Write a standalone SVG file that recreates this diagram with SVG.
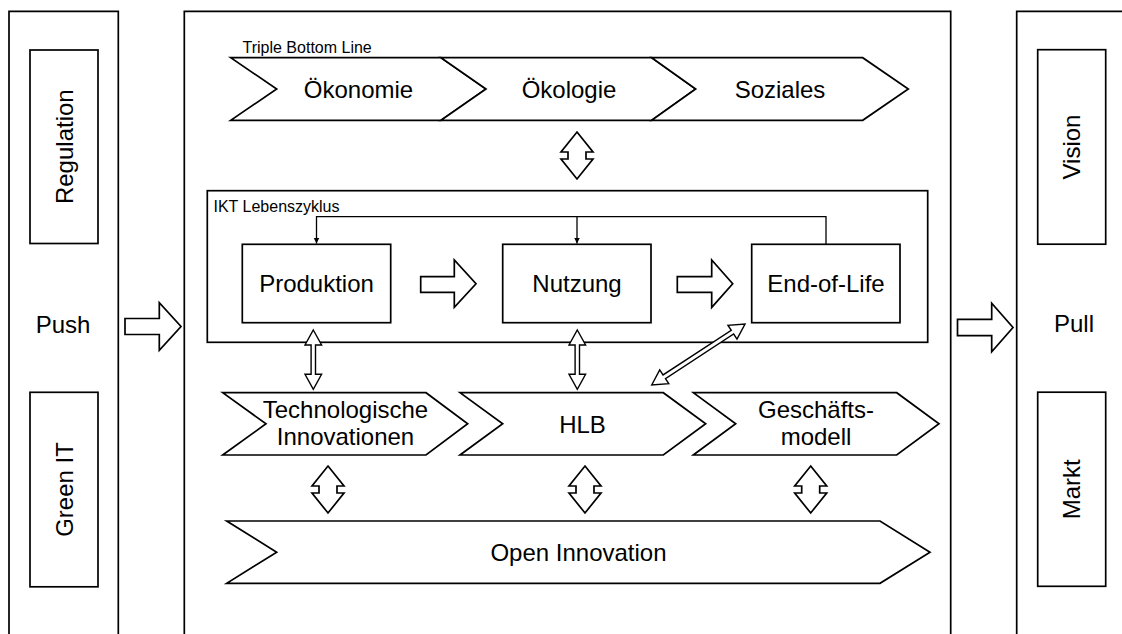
<svg xmlns="http://www.w3.org/2000/svg" width="1122" height="634" viewBox="0 0 1122 634">
  <style>
    .frame { fill: none; stroke: #000; stroke-width: 1.7; }
    .box { fill: #fff; stroke: #000; stroke-width: 1.7; }
    .shape { fill: #fff; stroke: #000; stroke-width: 1.7; stroke-linejoin: miter; }
    .link { fill: #fff; stroke: #000; stroke-width: 1.4; stroke-linejoin: miter; }
    .wire { fill: none; stroke: #000; stroke-width: 1.3; }
    .lbl { font-family: "Liberation Sans", Arial, sans-serif; font-size: 24px; fill: #000; text-anchor: middle; }
    .small { font-family: "Liberation Sans", Arial, sans-serif; font-size: 16px; fill: #000; }
  </style>
  <defs>
    <marker id="tip" viewBox="0 0 10 10" refX="10" refY="5" markerWidth="6" markerHeight="7" markerUnits="userSpaceOnUse" orient="auto">
      <path d="M0,0 L10,5 L0,10 Z" fill="#000"/>
    </marker>
    <!-- vertical double block arrow, 47 tall, origin at top tip -->
    <path id="dbl" d="M0,0 L16,20 L9,20 L9,27 L16,27 L0,47 L-16,27 L-9,27 L-9,20 L-16,20 Z"/>
  </defs>
  <rect width="1122" height="634" fill="#fff"/>

  <!-- Push column -->
  <g id="push-panel">
    <path class="frame" d="M9,640 V11.3 H118.3 V640"/>
    <text class="lbl" x="63" y="333">Push</text>
  </g>
  <g id="regulation">
    <rect class="box" x="30" y="50" width="68" height="193.5"/>
    <text class="lbl" transform="translate(64,146.7) rotate(-90)" y="8.5">Regulation</text>
  </g>
  <g id="green-it">
    <rect class="box" x="30" y="392.3" width="68" height="194.5"/>
    <text class="lbl" transform="translate(64,489.5) rotate(-90)" y="8.5">Green IT</text>
  </g>

  <!-- Central column -->
  <g id="center-panel">
    <path class="frame" d="M184.3,640 V11.3 H950.7 V640"/>
  </g>

  <!-- Triple Bottom Line -->
  <g id="tbl-label">
    <text class="small" x="242.5" y="53">Triple Bottom Line</text>
  </g>
  <g id="oekonomie">
    <polygon class="shape" points="230.7,57.7 441,57.7 486,89 441,120.3 230.7,120.3 276.7,89"/>
    <text class="lbl" x="358.5" y="97.5">Ökonomie</text>
  </g>
  <g id="oekologie">
    <polygon class="shape" points="441,57.7 651.7,57.7 695.7,89 651.7,120.3 441,120.3 486,89"/>
    <text class="lbl" x="569" y="97.5">Ökologie</text>
  </g>
  <g id="soziales">
    <polygon class="shape" points="651.7,57.7 862.7,57.7 908.3,89 862.7,120.3 651.7,120.3 695.7,89"/>
    <text class="lbl" x="780" y="97.5">Soziales</text>
  </g>

  <!-- ICT life cycle -->
  <g id="ikt-lebenszyklus">
    <rect class="frame" x="207.3" y="190.7" width="720.4" height="151.6"/>
    <text class="small" x="213.5" y="211.5">IKT Lebenszyklus</text>
  </g>
  <g id="produktion">
    <rect class="box" x="242.3" y="244.3" width="148.4" height="78.4"/>
    <text class="lbl" x="316.5" y="291.7">Produktion</text>
  </g>
  <g id="nutzung">
    <rect class="box" x="502.7" y="244.3" width="148.3" height="78.4"/>
    <text class="lbl" x="577" y="291.7">Nutzung</text>
  </g>
  <g id="end-of-life">
    <rect class="box" x="751.7" y="244.3" width="148.3" height="78.4"/>
    <text class="lbl" x="826" y="291.7">End-of-Life</text>
  </g>

  <!-- Value creation row -->
  <g id="technologische-innovationen">
    <polygon class="shape" points="222.7,392.7 426,392.7 467.7,423.8 426,455 222.7,455 266,423.8"/>
    <text class="lbl" x="345.5" y="418">Technologische</text>
    <text class="lbl" x="345.5" y="445">Innovationen</text>
  </g>
  <g id="hlb">
    <polygon class="shape" points="460,392.7 663.3,392.7 705.7,423.8 663.3,455 460,455 502.7,423.8"/>
    <text class="lbl" x="582.5" y="432.5">HLB</text>
  </g>
  <g id="geschaeftsmodell">
    <polygon class="shape" points="693.3,392.7 896.7,392.7 939,423.8 896.7,455 693.3,455 735.7,423.8"/>
    <text class="lbl" x="816" y="418">Geschäfts-</text>
    <text class="lbl" x="816" y="445">modell</text>
  </g>
  <g id="open-innovation">
    <polygon class="shape" points="226.7,521 880,521 930,552.2 880,583.3 226.7,583.3 276.7,552.2"/>
    <text class="lbl" x="578.5" y="560.5">Open Innovation</text>
  </g>

  <!-- Pull column -->
  <g id="pull-panel">
    <path class="frame" d="M1016.7,640 V11.3 H1130"/>
    <text class="lbl" x="1074" y="332">Pull</text>
  </g>
  <g id="vision">
    <rect class="box" x="1037.7" y="49.7" width="68" height="194.5"/>
    <text class="lbl" transform="translate(1071.7,147) rotate(-90)" y="8.5">Vision</text>
  </g>
  <g id="markt">
    <rect class="box" x="1037.7" y="392.2" width="68" height="194.1"/>
    <text class="lbl" transform="translate(1071.7,489.3) rotate(-90)" y="8.5">Markt</text>
  </g>

  <!-- Connectors -->
  <g id="connectors">
    <!-- push / pull block arrows -->
    <polygon class="shape" points="125,318.5 159.3,318.5 159.3,302.8 181,326.5 159.3,350.2 159.3,334.5 125,334.5"/>
    <polygon class="shape" points="957.5,319.3 991.7,319.3 991.7,303.3 1013,327.5 991.7,351.7 991.7,335.7 957.5,335.7"/>
    <!-- life cycle sequence -->
    <polygon class="shape" points="420.7,276.7 454.3,276.7 454.3,260 476,283.7 454.3,307.4 454.3,292.3 420.7,292.3"/>
    <polygon class="shape" points="677.3,276.7 711.7,276.7 711.7,260 732.7,283.7 711.7,307.4 711.7,292.3 677.3,292.3"/>
    <!-- feedback loop from End-of-Life -->
    <path class="wire" d="M826,244.3 V216.7 H316.5 V243.5" marker-end="url(#tip)"/>
    <path class="wire" d="M577,216.7 V243.5" marker-end="url(#tip)"/>
    <!-- two-way block arrows -->
    <use href="#dbl" class="shape" x="577" y="132"/>
    <use href="#dbl" class="shape" x="328" y="466"/>
    <use href="#dbl" class="shape" x="585" y="466"/>
    <use href="#dbl" class="shape" x="810.7" y="466"/>
    <!-- double-line links between life cycle and value creation -->
    <path class="link" d="M313.3,330 L321.6,345 L315.5,345 L315.5,374.3 L321.6,374.3 L313.3,389.3 L305,374.3 L311.1,374.3 L311.1,345 L305,345 Z"/>
    <path class="link" d="M577.3,330 L585.6,345 L579.5,345 L579.5,374.3 L585.6,374.3 L577.3,389.3 L569,374.3 L575.1,374.3 L575.1,345 L569,345 Z"/>
    <path class="link" transform="translate(651.7,385) rotate(-33.18)" d="M0,0 L15,-8.3 L15,-2.2 L96.5,-2.2 L96.5,-8.3 L111.5,0 L96.5,8.3 L96.5,2.2 L15,2.2 L15,8.3 Z"/>
  </g>
</svg>
